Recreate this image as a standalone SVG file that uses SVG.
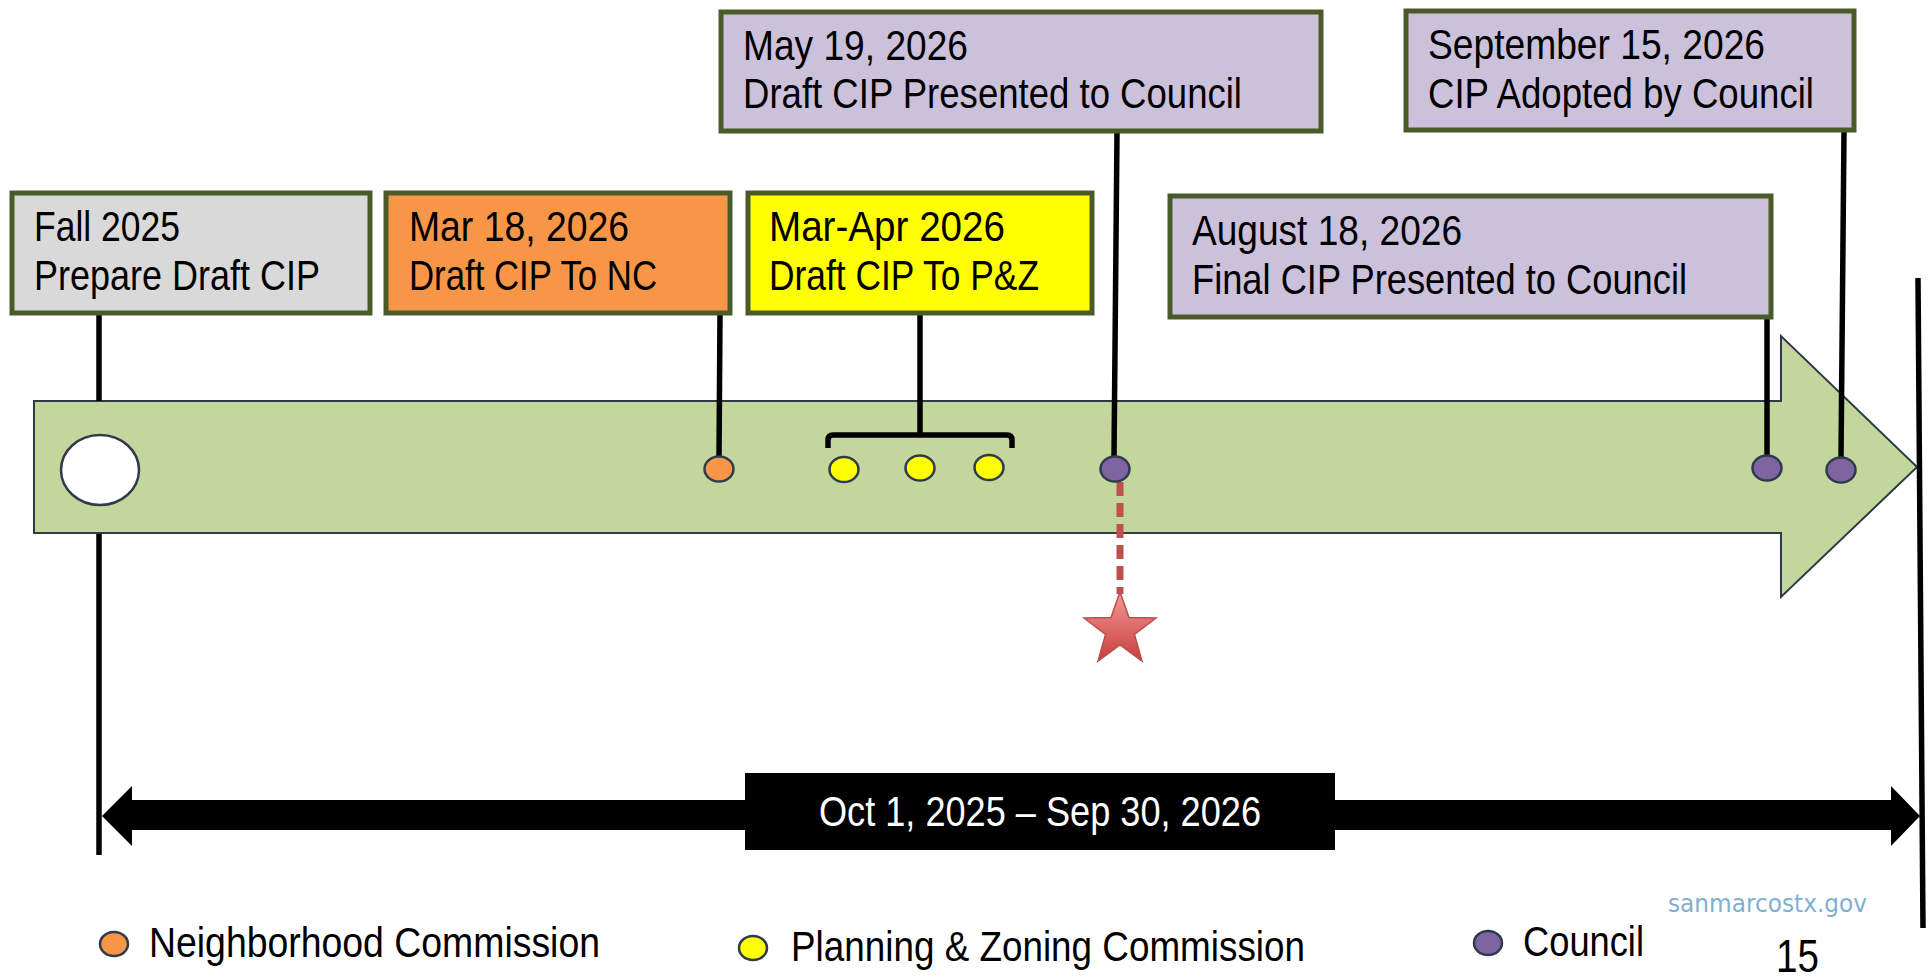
<svg xmlns="http://www.w3.org/2000/svg" width="1930" height="980" viewBox="0 0 1930 980">
<style>
.box{stroke:#4A5A28;stroke-width:5}
.t{font-family:"Liberation Sans",Arial,sans-serif;font-size:42px;fill:#000}
.con{stroke:#000;stroke-width:5.5;fill:none}
.dot{stroke:#2F3B4C;stroke-width:2.5}
</style>
<defs>
<linearGradient id="starG" x1="0" y1="0" x2="0" y2="1">
<stop offset="0" stop-color="#F49A98"/>
<stop offset="1" stop-color="#C93E3A"/>
</linearGradient>
</defs>
<rect width="1930" height="980" fill="#fff"/>
<g id="timeline-arrow">
<polygon points="34,401 1781,401 1781,336 1917,467 1781,597 1781,533 34,533" fill="#C3D69B" stroke="#2E3A45" stroke-width="2"/>
</g>
<g id="connectors">
<line class="con" x1="99" y1="315" x2="99" y2="401"/>
<line class="con" x1="99" y1="534" x2="99" y2="855"/>
<line class="con" x1="720" y1="315" x2="719" y2="458"/>
<line class="con" x1="920" y1="315" x2="920" y2="435"/>
<path class="con" d="M828,448 V440 Q828,435 833,435 H1007 Q1012,435 1012,440 V448"/>
<line class="con" x1="1117" y1="133" x2="1114" y2="458"/>
<line x1="1120" y1="482" x2="1120" y2="594" stroke="#C0504D" stroke-width="7" stroke-dasharray="14 7"/>
<line class="con" x1="1767" y1="319" x2="1767" y2="457"/>
<line class="con" x1="1844" y1="132" x2="1841" y2="458"/>
<line class="con" x1="1918" y1="278" x2="1923" y2="928"/>
</g>
<g id="dots">
<ellipse cx="100" cy="470" rx="39" ry="35" fill="#fff" class="dot"/>
<ellipse cx="719" cy="469" rx="14.5" ry="12.5" fill="#F79646" class="dot"/>
<ellipse cx="844" cy="469.5" rx="14.5" ry="12.5" fill="#FFFF00" class="dot"/>
<ellipse cx="920" cy="468" rx="14.5" ry="12.5" fill="#FFFF00" class="dot"/>
<ellipse cx="989" cy="467.5" rx="14.5" ry="12.5" fill="#FFFF00" class="dot"/>
<ellipse cx="1115" cy="469" rx="14.5" ry="12.5" fill="#8064A2" class="dot"/>
<ellipse cx="1767" cy="468" rx="14.5" ry="12.5" fill="#8064A2" class="dot"/>
<ellipse cx="1841" cy="470" rx="14.5" ry="12.5" fill="#8064A2" class="dot"/>
</g>
<g id="star">
<polygon points="1120,592 1129,617.5 1156,618 1134.5,634.5 1142,661 1120,645 1098,661 1105.5,634.5 1084,618 1111,617.5" fill="url(#starG)" stroke="#B9504C" stroke-width="1.5"/>
</g>
<g id="node-fall2025">
<rect class="box" x="12" y="193" width="358" height="120" fill="#D9D9D9"/>
<text class="t" x="34" y="241" textLength="146" lengthAdjust="spacingAndGlyphs">Fall 2025</text>
<text class="t" x="34" y="290" textLength="286" lengthAdjust="spacingAndGlyphs">Prepare Draft CIP</text>
</g>
<g id="node-mar18">
<rect class="box" x="386" y="193" width="344" height="120" fill="#F79646"/>
<text class="t" x="409" y="241" textLength="220" lengthAdjust="spacingAndGlyphs">Mar 18, 2026</text>
<text class="t" x="409" y="290" textLength="248" lengthAdjust="spacingAndGlyphs">Draft CIP To NC</text>
</g>
<g id="node-marapr">
<rect class="box" x="748" y="193" width="344" height="120" fill="#FFFF00"/>
<text class="t" x="769" y="241" textLength="236" lengthAdjust="spacingAndGlyphs">Mar-Apr 2026</text>
<text class="t" x="769" y="290" textLength="270" lengthAdjust="spacingAndGlyphs">Draft CIP To P&amp;Z</text>
</g>
<g id="node-may19">
<rect class="box" x="721" y="12" width="600" height="119" fill="#CCC1DA"/>
<text class="t" x="743" y="60" textLength="225" lengthAdjust="spacingAndGlyphs">May 19, 2026</text>
<text class="t" x="743" y="108" textLength="499" lengthAdjust="spacingAndGlyphs">Draft CIP Presented to Council</text>
</g>
<g id="node-aug18">
<rect class="box" x="1170" y="196" width="601" height="121" fill="#CCC1DA"/>
<text class="t" x="1192" y="245" textLength="270" lengthAdjust="spacingAndGlyphs">August 18, 2026</text>
<text class="t" x="1192" y="294" textLength="495" lengthAdjust="spacingAndGlyphs">Final CIP Presented to Council</text>
</g>
<g id="node-sep15">
<rect class="box" x="1406" y="11" width="448" height="119" fill="#CCC1DA"/>
<text class="t" x="1428" y="59" textLength="337" lengthAdjust="spacingAndGlyphs">September 15, 2026</text>
<text class="t" x="1428" y="108" textLength="386" lengthAdjust="spacingAndGlyphs">CIP Adopted by Council</text>
</g>
<g id="fiscal-year">
<polygon points="102,816 132,786 132,800 1891,800 1891,786 1920,816 1891,846 1891,830 132,830 132,846" fill="#000"/>
<rect x="745" y="773" width="590" height="77" fill="#000"/>
<text class="t" x="819" y="826" style="fill:#fff" textLength="442" lengthAdjust="spacingAndGlyphs">Oct 1, 2025 – Sep 30, 2026</text>
</g>
<g id="legend">
<ellipse cx="114" cy="944" rx="14" ry="12" fill="#F79646" class="dot"/>
<text class="t" x="149" y="957" textLength="451" lengthAdjust="spacingAndGlyphs">Neighborhood Commission</text>
<ellipse cx="753" cy="948" rx="14" ry="12" fill="#FFFF00" class="dot"/>
<text class="t" x="791" y="961" textLength="514" lengthAdjust="spacingAndGlyphs">Planning &amp; Zoning Commission</text>
<ellipse cx="1488" cy="943" rx="14" ry="12" fill="#8064A2" class="dot"/>
<text class="t" x="1523" y="956" textLength="121" lengthAdjust="spacingAndGlyphs">Council</text>
</g>
<g id="footer">
<text x="1668" y="912" font-family="DejaVu Sans, sans-serif" font-size="25" fill="#7FB0D0" textLength="199" lengthAdjust="spacingAndGlyphs">sanmarcostx.gov</text>
<text x="1776" y="972" font-family="Liberation Sans, Arial, sans-serif" font-size="46" fill="#000" textLength="43" lengthAdjust="spacingAndGlyphs">15</text>
</g>
</svg>
